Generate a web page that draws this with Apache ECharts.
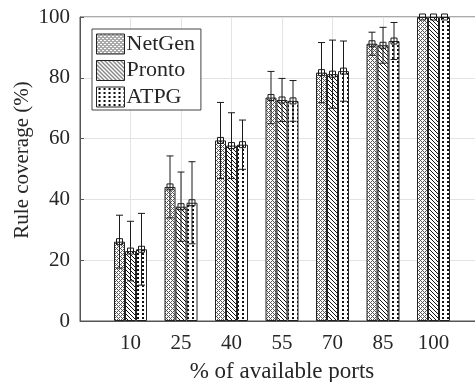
<!DOCTYPE html>
<html>
<head>
<meta charset="utf-8">
<script src="https://cdn.jsdelivr.net/npm/echarts@6/dist/echarts.min.js"></script>
<style>html,body{margin:0;padding:0;background:#fff}#c{width:475px;height:382px}</style>
</head>
<body>
<div id="c"></div>
<script>
// ---- data ----
const categories = ['10', '25', '40', '55', '70', '85', '100'];
const seriesNames = ['NetGen', 'Pronto', 'ATPG'];
const netgenMean = [26.1, 44.1, 59.4, 73.5, 81.7, 91.2, 100];
const netgenStd  = [8.7, 10.2, 12.5, 8.6, 9.9, 3.8, 0];
const prontoMean = [23.0, 37.6, 57.7, 72.7, 81.2, 90.7, 100];
const prontoStd  = [9.8, 11.4, 10.8, 7.1, 11.2, 5.9, 0];
const atpgMean   = [23.6, 38.9, 58.0, 72.4, 82.2, 92.1, 100];
const atpgStd    = [11.8, 13.5, 8.1, 6.7, 9.9, 6.1, 0];
const yTicks = [0, 20, 40, 60, 80, 100];

const FONT = "'Liberation Serif', 'Times New Roman', serif";
const TXT = '#262626';

function makePattern(kind) {
  const c = document.createElement('canvas');
  const ctx = c.getContext('2d');
  if (kind === 'cross') {
    c.width = 4; c.height = 4;
    ctx.fillStyle = '#fff'; ctx.fillRect(0, 0, 4, 4);
    ctx.fillStyle = '#555';
    for (let x = 0; x < 4; x++) for (let y = 0; y < 4; y++) {
      if ((x + y) % 4 === 0 || ((x - y) % 4 + 4) % 4 === 0) ctx.fillRect(x, y, 1, 1);
    }
  } else if (kind === 'diag') {
    c.width = 4; c.height = 4;
    ctx.fillStyle = '#fff'; ctx.fillRect(0, 0, 4, 4);
    ctx.fillStyle = '#111';
    for (let x = 0; x < 4; x++) for (let y = 0; y < 4; y++) {
      if (((x - y) % 4 + 4) % 4 === 0) ctx.fillRect(x, y, 1, 1);
    }
  } else {
    c.width = 5; c.height = 4;
    ctx.fillStyle = '#fff'; ctx.fillRect(0, 0, 5, 4);
    ctx.fillStyle = '#111';
    ctx.fillRect(2, 1, 2, 2);
  }
  return { image: c, repeat: 'repeat' };
}

const patterns = [makePattern('cross'), makePattern('diag'), makePattern('dots')];
const means = [netgenMean, prontoMean, atpgMean];
const stds = [netgenStd, prontoStd, atpgStd];

const axisCats = [''].concat(categories, ['']);
const pad = arr => ['-'].concat(arr, ['-']);

const BAR_W = 11;
const series = [];
seriesNames.forEach((name, i) => {
  series.push({
    name: name,
    type: 'bar',
    data: pad(means[i]),
    barWidth: BAR_W,
    barGap: '0%',
    itemStyle: { color: patterns[i], borderColor: '#222', borderWidth: 1 },
    emphasis: { disabled: true },
    animation: false,
    z: 2
  });
});
seriesNames.forEach((name, i) => {
  const errData = means[i].map((m, k) => [k + 1, m, stds[i][k]]);
  series.push({
    name: name + ' err',
    type: 'custom',
    data: errData,
    z: 5,
    animation: false,
    renderItem: function (params, api) {
      const idx = api.value(0), m = api.value(1), s = api.value(2);
      const off = (i - 1) * BAR_W;
      const pm = api.coord([idx, m]);
      const pt = api.coord([idx, m + s]);
      const pb = api.coord([idx, m - s]);
      const x = pm[0] + off;
      const cap = 3.5;
      const children = [];
      const st = { stroke: '#1a1a1a', lineWidth: 1, fill: null };
      if (s > 0) {
        children.push({ type: 'line', shape: { x1: x, y1: pt[1], x2: x, y2: pb[1] }, style: st });
        children.push({ type: 'line', shape: { x1: x - cap, y1: pt[1], x2: x + cap, y2: pt[1] }, style: st });
        children.push({ type: 'line', shape: { x1: x - cap, y1: pb[1], x2: x + cap, y2: pb[1] }, style: st });
      }
      children.push({ type: 'rect', shape: { x: x - 3, y: pm[1] - 3, width: 6, height: 6 }, style: { stroke: '#1a1a1a', lineWidth: 1, fill: 'rgba(0,0,0,0)' } });
      return { type: 'group', children: children };
    }
  });
});

const chart = echarts.init(document.getElementById('c'), null, { renderer: 'canvas' });
chart.setOption({
  backgroundColor: '#fff',
  animation: false,
  grid: { left: 80, top: 17, width: 404, bottom: 61, containLabel: false, outerBoundsMode: 'none', show: true, borderColor: '#555', borderWidth: 1, backgroundColor: 'transparent' },
  legend: {
    data: seriesNames,
    orient: 'vertical',
    left: 92, top: 29,
    padding: [4, 6, 2, 4],
    itemWidth: 28, itemHeight: 20, itemGap: 4.5,
    backgroundColor: '#fff',
    borderColor: '#444', borderWidth: 1,
    icon: 'rect',
    itemStyle: { borderColor: '#222', borderWidth: 1 },
    textStyle: { fontFamily: FONT, fontSize: 22, color: TXT, padding: [0, 0, 0, -3], lineHeight: 22 }
  },
  xAxis: {
    type: 'category',
    data: axisCats,
    boundaryGap: false,
    name: '% of available ports',
    nameLocation: 'middle',
    nameGap: 39,
    nameMoveOverlap: false,
    nameTextStyle: { fontFamily: FONT, fontSize: 23, color: TXT },
    axisLine: { show: true, lineStyle: { color: '#555' } },
    axisTick: { show: true, inside: true, length: 4, interval: 0, lineStyle: { color: '#555' } },
    axisLabel: { interval: 0, margin: 12, fontFamily: FONT, fontSize: 21, color: TXT },
    splitLine: { show: true, interval: 0, lineStyle: { color: '#e3e3e3' } }
  },
  yAxis: {
    type: 'value',
    min: yTicks[0], max: yTicks[yTicks.length - 1], interval: 20,
    name: 'Rule coverage (%)',
    nameLocation: 'middle',
    nameGap: 47,
    nameMoveOverlap: false,
    nameTextStyle: { fontFamily: FONT, fontSize: 21, color: TXT, padding: [0, 0, 0, 18] },
    axisLine: { show: true, lineStyle: { color: '#555' } },
    axisTick: { show: true, inside: true, length: 4, lineStyle: { color: '#555' } },
    axisLabel: { margin: 10, fontFamily: FONT, fontSize: 21, color: TXT },
    splitLine: { show: true, lineStyle: { color: '#e3e3e3' } }
  },
  series: series
});
</script>
</body>
</html>
